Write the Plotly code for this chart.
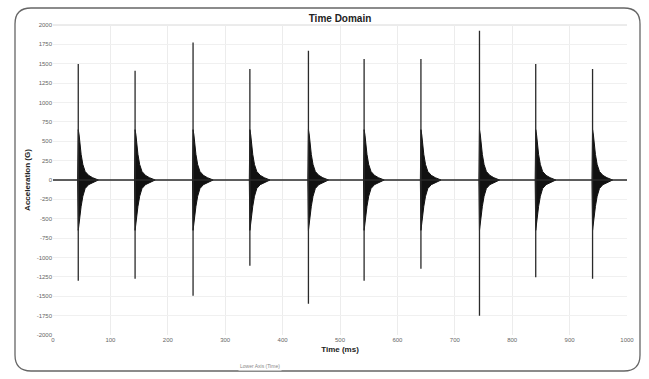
import plotly.graph_objects as go

# ---- data ----
impact_time_ms = [44, 143, 244, 343, 445, 542, 641, 743, 841, 940]
peak_pos_g = [1497, 1410, 1775, 1432, 1668, 1561, 1561, 1926, 1497, 1432]
peak_neg_g = [-1299, -1273, -1493, -1106, -1596, -1299, -1144, -1751, -1256, -1273]

# ring-down envelope after each impact (offset in ms, amplitude in G)
env_offset_ms = [-1, 0, 1.5, 3, 5, 8, 12, 18, 25, 35]
env_upper_g = [0, 650, 580, 450, 330, 200, 110, 60, 30, 0]
env_lower_g = [0, -650, -600, -460, -340, -210, -110, -60, -30, 0]

x_tick_vals = [0, 100, 200, 300, 400, 500, 600, 700, 800, 900, 1000]
y_tick_vals = [2000, 1750, 1500, 1250, 1000, 750, 500, 250, 0, -250, -500,
               -750, -1000, -1250, -1500, -1750, -2000]

# ---- build the signal path from the data ----
sig_x, sig_y = [0], [0]
for t, p, n in zip(impact_time_ms, peak_pos_g, peak_neg_g):
    sig_x += [t, t, t, t]
    sig_y += [0, p, n, 0]
sig_x.append(1000)
sig_y.append(0)

fig = go.Figure()

# envelope fills
for t in impact_time_ms:
    ex = [t + o for o in env_offset_ms] + [t + o for o in reversed(env_offset_ms)]
    ey = list(env_upper_g) + list(reversed(env_lower_g))
    fig.add_trace(go.Scatter(x=ex, y=ey, mode="lines", fill="toself",
                             fillcolor="#111111", line=dict(color="#111111", width=1),
                             hoverinfo="skip", showlegend=False))

fig.add_trace(go.Scatter(x=sig_x, y=sig_y, mode="lines",
                         line=dict(color="#2a2a2a", width=1.3),
                         showlegend=False))

W, H = 649, 379
L, R, T, B = 53, 22, 25, 44
pw, ph = W - L - R, H - T - B


def px(xp):
    return (xp - L) / pw


def py(yp):
    return (H - B - yp) / ph


# rounded outer frame
x0, x1, y0, y1, r = 15, 640, 8, 371, 16
path = (f"M {px(x0+r)},{py(y0)} L {px(x1-r)},{py(y0)} "
        f"Q {px(x1)},{py(y0)} {px(x1)},{py(y0+r)} "
        f"L {px(x1)},{py(y1-r)} Q {px(x1)},{py(y1)} {px(x1-r)},{py(y1)} "
        f"L {px(x0+r)},{py(y1)} Q {px(x0)},{py(y1)} {px(x0)},{py(y1-r)} "
        f"L {px(x0)},{py(y0+r)} Q {px(x0)},{py(y0)} {px(x0+r)},{py(y0)} Z")

fig.update_layout(
    width=W, height=H,
    margin=dict(l=L, r=R, t=T, b=B),
    paper_bgcolor="white", plot_bgcolor="white",
    title=dict(text="<b>Time Domain</b>", x=px(340), xref="paper", xanchor="center",
               y=1 - 18 / H, yanchor="middle",
               font=dict(family="Arial, Liberation Sans, sans-serif", size=10, color="#222")),
    font=dict(family="Arial, Liberation Sans, sans-serif", color="#555"),
    shapes=[dict(type="path", xref="paper", yref="paper", path=path,
                 line=dict(color="#666", width=1.3), layer="above"),
            dict(type="line", xref="paper", yref="paper", x0=0, x1=1, y0=1, y1=1,
                 line=dict(color="#d8d8d8", width=1), layer="below")],
    annotations=[dict(text="Lower Axis (Time)", xref="paper", yref="paper",
                      x=px(238), y=py(371), showarrow=False,
                      font=dict(size=5, color="#888"), bgcolor="white")],
)

fig.update_xaxes(range=[0, 1000], tickvals=x_tick_vals,
                 ticktext=[str(v) for v in x_tick_vals],
                 showgrid=True, gridcolor="#ececec", gridwidth=1,
                 zeroline=False, showline=False, ticks="",
                 tickfont=dict(size=6, color="#666"),
                 title=dict(text="<b>Time (ms)</b>", standoff=4,
                            font=dict(size=8, color="#222")))
fig.update_yaxes(range=[-2000, 2000], tickvals=y_tick_vals,
                 ticktext=[str(v) for v in y_tick_vals],
                 showgrid=True, gridcolor="#f0f0f0", gridwidth=1,
                 zeroline=False, showline=False, ticks="",
                 tickfont=dict(size=6, color="#666"),
                 title=dict(text="<b>Acceleration (G)</b>", standoff=4,
                            font=dict(size=8, color="#222")))

fig.write_html("out.html")
